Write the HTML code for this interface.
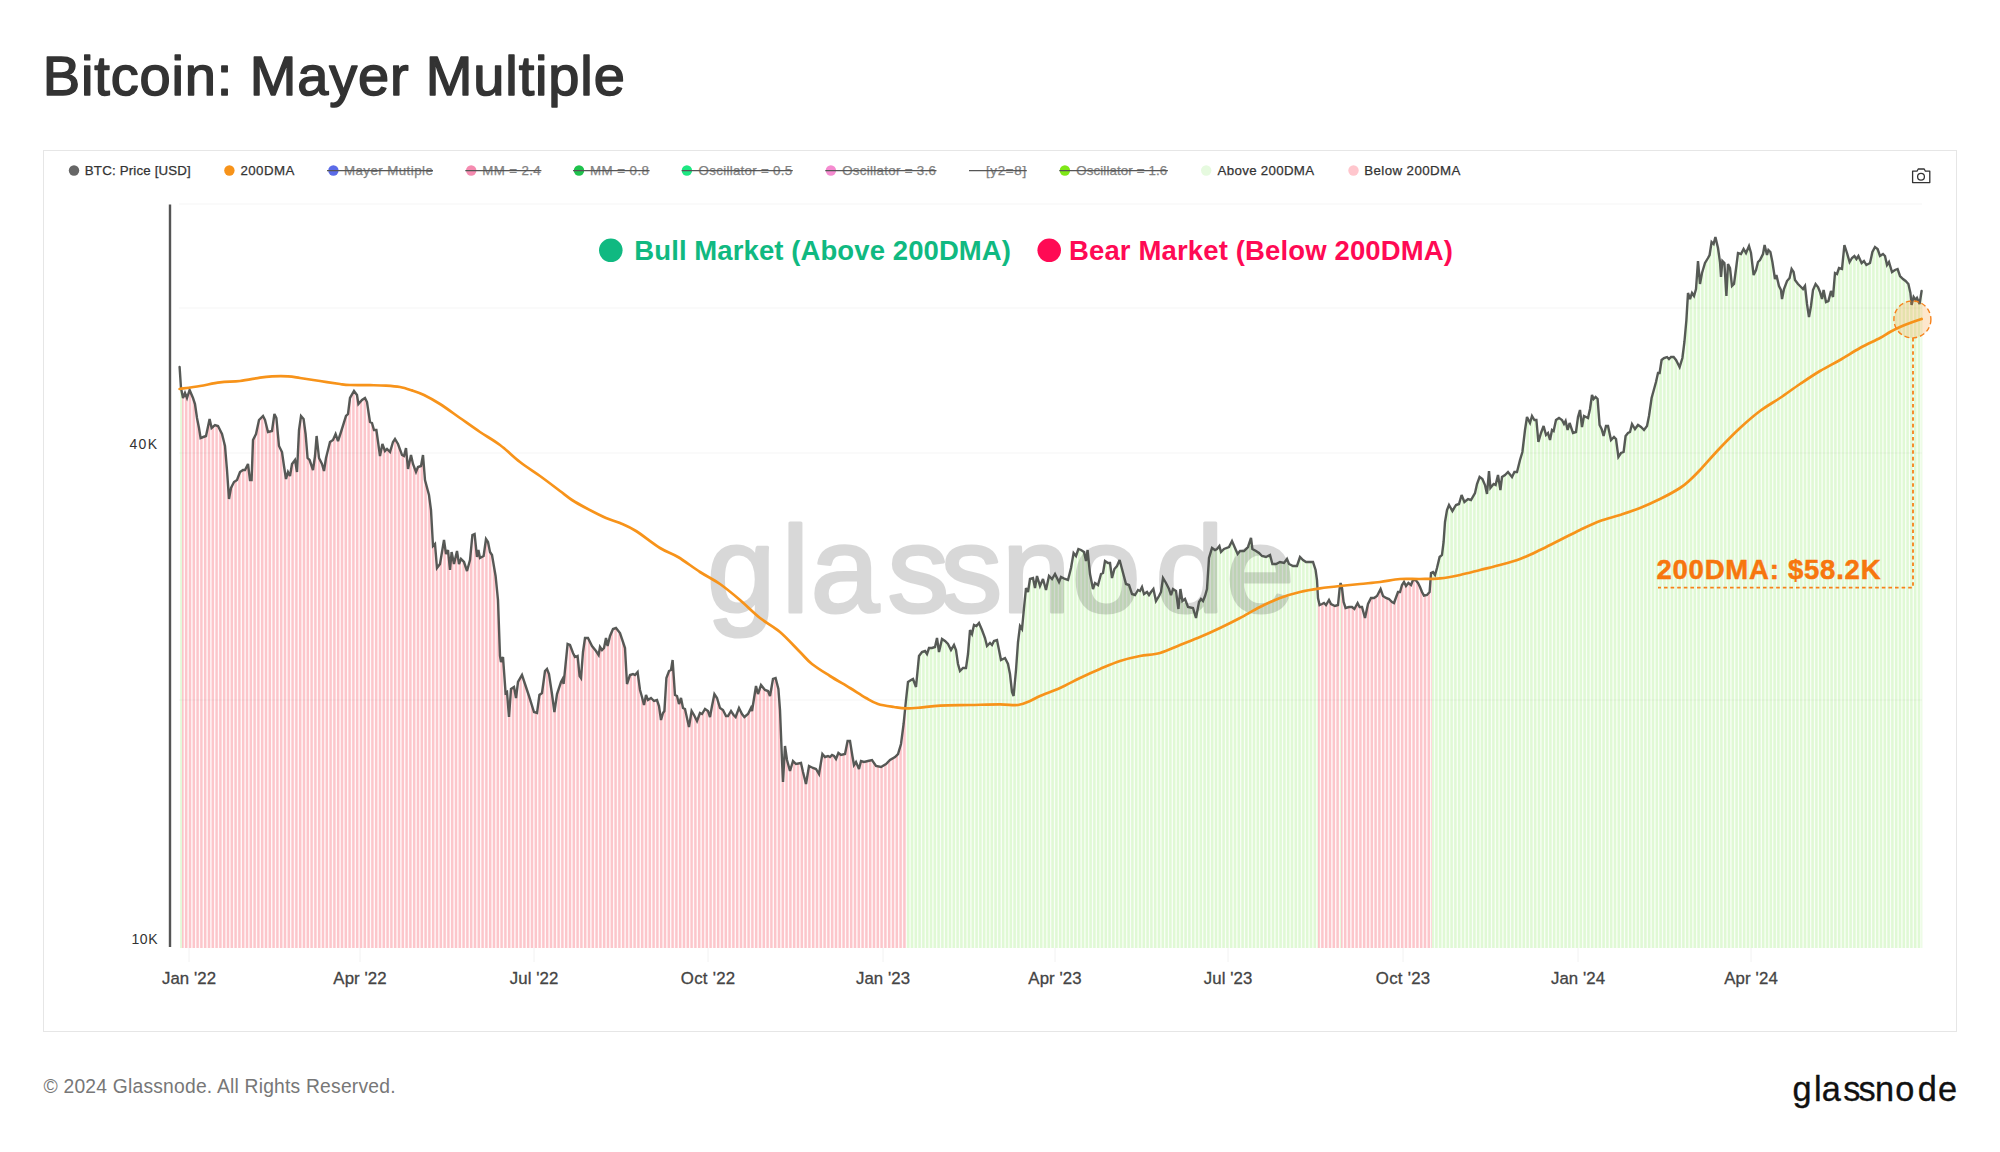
<!DOCTYPE html>
<html lang="en"><head><meta charset="utf-8"><title>Bitcoin: Mayer Multiple</title>
<style>
html,body{margin:0;padding:0;background:#fff;}
body{width:2000px;height:1152px;overflow:hidden;font-family:"Liberation Sans",Arial,sans-serif;}
svg{display:block;position:absolute;left:0;top:0;}
svg text{font-family:"Liberation Sans",Arial,sans-serif;}
</style></head><body>
<svg width="2000" height="1152" viewBox="0 0 2000 1152">

<text x="42.8" y="94.6" font-size="56" fill="#333" textLength="582" lengthAdjust="spacing" stroke="#333" stroke-width="1.5" stroke-linejoin="round">Bitcoin: Mayer Multiple</text>
<rect x="43.5" y="150.5" width="1913" height="881" fill="#fff" stroke="#e6e6e6" stroke-width="1"/>
<line x1="189" x2="189" y1="948" y2="962" stroke="#f2f2f2" stroke-width="1"/>
<line x1="360" x2="360" y1="948" y2="962" stroke="#f2f2f2" stroke-width="1"/>
<line x1="534" x2="534" y1="948" y2="962" stroke="#f2f2f2" stroke-width="1"/>
<line x1="708" x2="708" y1="948" y2="962" stroke="#f2f2f2" stroke-width="1"/>
<line x1="883" x2="883" y1="948" y2="962" stroke="#f2f2f2" stroke-width="1"/>
<line x1="1055" x2="1055" y1="948" y2="962" stroke="#f2f2f2" stroke-width="1"/>
<line x1="1228" x2="1228" y1="948" y2="962" stroke="#f2f2f2" stroke-width="1"/>
<line x1="1403" x2="1403" y1="948" y2="962" stroke="#f2f2f2" stroke-width="1"/>
<line x1="1578" x2="1578" y1="948" y2="962" stroke="#f2f2f2" stroke-width="1"/>
<line x1="1751" x2="1751" y1="948" y2="962" stroke="#f2f2f2" stroke-width="1"/>
<path d="M181.9 948L181.9 392.5 183.0 398.0 185.0 393.0 187.0 398.0 189.6 390.0 193.0 398.0 195.0 404.0 197.0 418.0 199.0 428.0 200.6 438.0 206.0 436.0 209.6 419.0 211.6 428.0 215.0 425.0 218.0 426.0 222.0 434.0 225.0 446.0 227.0 470.0 229.0 499.0 231.0 488.0 234.0 482.0 237.0 480.0 240.0 472.0 243.0 470.0 245.0 470.0 248.0 464.0 250.0 480.0 251.6 480.0 253.0 440.0 256.0 434.0 259.0 420.0 263.0 416.0 265.0 420.0 268.0 432.0 272.0 431.0 274.4 414.0 276.4 418.0 279.0 446.0 282.0 452.0 284.0 466.0 286.0 479.0 288.0 472.0 290.0 476.0 292.0 464.0 295.0 460.0 297.0 472.0 299.0 430.0 301.0 416.0 303.6 419.0 305.6 434.0 307.6 458.0 309.6 460.0 313.0 470.0 315.0 456.0 316.6 436.0 319.0 458.0 322.0 464.0 324.0 471.0 326.0 458.0 330.0 442.0 333.0 440.0 335.6 434.0 338.0 441.0 341.0 432.0 346.0 416.0 348.0 414.0 350.0 398.0 354.0 391.0 357.0 395.0 358.4 404.0 362.0 400.0 365.0 398.0 367.0 402.0 370.0 422.0 372.0 423.0 374.0 430.0 376.4 430.0 380.0 456.0 382.4 444.0 385.0 451.0 387.0 449.0 390.0 452.0 393.0 442.0 395.0 439.0 398.0 444.0 402.0 455.0 404.0 456.0 406.0 448.0 408.0 469.0 411.0 455.0 413.0 464.0 416.0 472.0 418.0 467.0 421.0 466.0 423.0 455.0 425.0 480.0 429.0 495.0 431.0 510.0 433.0 546.0 435.0 544.0 437.0 568.0 440.0 564.0 444.0 540.0 446.0 554.0 448.0 550.0 450.0 570.0 451.6 552.0 454.0 564.0 457.0 551.0 459.0 564.0 461.0 559.0 464.0 562.0 467.0 571.0 470.0 560.0 472.4 535.0 474.6 534.0 477.0 557.0 478.4 550.0 480.0 558.0 483.6 556.0 486.0 539.0 488.0 542.0 490.0 552.0 492.0 555.0 495.6 576.0 498.0 600.0 500.0 656.0 501.0 662.0 503.0 657.0 505.6 693.0 507.0 692.0 509.0 717.0 511.0 689.0 514.0 687.0 516.0 698.0 518.0 682.0 522.0 675.0 525.0 684.0 529.0 696.0 534.0 712.0 537.0 713.0 539.4 695.0 542.0 693.0 545.0 671.0 547.0 669.0 549.0 674.0 552.0 694.0 554.4 712.0 557.0 694.0 561.0 682.0 562.6 679.0 563.6 684.0 565.6 664.0 567.6 644.0 570.0 645.0 573.0 653.0 575.0 657.0 577.6 656.0 579.6 676.0 581.0 678.0 583.0 652.0 585.0 638.0 588.0 638.0 592.0 646.0 596.0 651.0 598.6 655.0 600.0 647.0 602.0 650.0 604.0 648.0 606.0 638.0 607.6 646.0 610.0 636.0 613.0 629.0 616.0 628.0 620.0 633.0 623.0 642.0 625.0 648.0 627.0 684.0 630.0 675.0 633.0 674.0 635.0 675.0 637.6 672.0 640.0 690.0 642.0 697.0 644.0 705.0 646.0 695.0 648.0 700.0 651.0 698.0 654.0 701.0 657.0 700.0 659.0 706.0 661.0 720.0 663.0 713.0 664.4 711.0 666.4 678.0 669.0 671.0 671.0 670.0 672.6 660.0 675.0 695.0 677.0 696.0 679.0 704.0 681.0 698.0 683.0 708.0 685.0 709.0 689.0 727.0 691.6 711.0 694.0 715.0 697.0 721.0 700.0 713.0 702.0 714.0 705.0 709.0 708.0 711.0 710.0 717.0 712.0 706.0 714.4 694.0 717.0 698.0 720.0 708.0 723.0 710.0 726.0 716.0 728.0 716.0 731.0 711.0 733.6 715.0 735.6 717.0 739.0 708.0 742.0 714.0 744.4 717.0 748.0 714.0 751.0 708.0 752.0 711.0 756.0 686.0 758.0 694.0 761.0 685.0 765.0 690.0 768.0 691.0 770.0 696.0 773.0 679.0 775.6 678.0 778.4 689.0 780.0 710.0 782.0 760.0 783.0 782.0 785.0 746.0 787.0 760.0 790.0 771.0 793.0 761.0 796.0 764.0 801.0 763.0 803.0 772.0 806.0 784.0 809.0 766.0 813.0 768.0 816.0 769.0 819.0 774.0 822.4 754.0 825.0 757.0 828.0 756.0 830.0 757.0 832.0 755.0 834.0 756.0 836.0 759.0 838.4 753.0 841.0 755.0 845.0 754.0 847.6 741.0 850.0 741.0 852.4 756.0 854.0 765.0 856.0 762.0 859.0 769.0 861.0 761.0 864.0 762.0 868.0 761.0 872.0 760.0 876.0 766.0 881.0 767.0 886.0 764.0 890.0 760.0 895.0 757.0 898.0 754.0 901.0 744.0 903.6 724.0 906.0 700.0 906.3 697.3L906.3 948Z" fill="#fcc6cb"/>
<path d="M1317.8 948L1317.8 594.4 1318.0 598.0 1319.6 605.0 1322.0 604.0 1324.0 603.0 1326.0 605.0 1329.0 600.0 1331.0 604.0 1335.0 606.0 1338.0 605.0 1339.6 589.0L1339.6 948Z" fill="#fcc6cb"/>
<path d="M1340.9 948L1340.9 584.1 1342.0 588.0 1343.6 602.0 1345.6 608.0 1349.0 607.0 1352.0 607.0 1354.4 609.0 1357.6 603.0 1359.6 607.0 1362.0 607.0 1365.0 618.0 1368.0 604.0 1371.0 598.0 1374.0 598.0 1377.0 596.0 1380.6 589.0 1383.0 596.0 1386.0 598.0 1389.0 599.0 1392.0 602.0 1394.0 603.0 1398.0 592.0 1400.0 592.0 1402.0 585.0 1404.0 582.0 1406.0 586.0 1408.4 583.0 1411.0 585.0 1413.0 580.0 1415.6 580.0 1418.0 583.0 1420.0 587.0 1422.0 592.0 1424.0 595.6 1427.0 595.0 1429.6 592.0 1431.0 573.0 1432.0 572.5L1432 948Z" fill="#fcc6cb"/>
<path d="M180.2 948L180.2 376.0 181.0 388.0 181.9 392.5L181.9 948Z" fill="#e0f9d5"/>
<path d="M906.3 948L906.3 697.3 908.0 682.0 911.0 680.0 913.0 679.0 916.0 687.0 919.0 656.0 922.0 652.0 925.0 651.0 927.0 654.0 929.0 648.0 932.0 648.0 935.0 647.0 937.0 638.0 939.0 652.0 942.0 639.0 945.0 641.0 948.0 644.0 951.0 650.0 954.0 645.0 956.0 650.0 958.0 664.0 960.0 671.0 963.0 668.0 966.0 668.0 968.0 654.0 970.0 630.0 972.0 634.0 974.0 625.0 976.4 626.0 979.0 623.0 982.0 630.0 985.0 638.0 987.0 646.0 990.0 643.0 992.0 645.0 994.0 641.0 997.0 640.0 999.0 650.0 1001.0 660.0 1005.0 658.0 1008.0 664.0 1010.0 674.0 1012.0 692.0 1013.6 696.0 1016.0 670.0 1018.0 642.0 1020.0 626.0 1022.0 629.0 1024.0 608.0 1026.0 588.0 1028.0 592.0 1030.0 579.0 1033.0 578.0 1035.0 588.0 1037.0 576.0 1040.0 586.0 1043.0 579.0 1046.0 590.0 1049.0 576.0 1052.0 579.0 1055.0 574.0 1059.0 582.0 1061.0 577.0 1065.0 579.0 1068.0 580.0 1071.0 568.0 1073.6 553.0 1076.0 556.0 1078.4 549.0 1081.0 550.0 1084.0 552.0 1086.0 561.0 1087.6 550.0 1090.0 574.0 1093.0 589.0 1095.0 583.0 1098.0 585.0 1101.0 574.0 1103.0 573.0 1105.0 561.0 1108.0 563.0 1110.0 563.0 1112.0 578.0 1114.4 569.0 1117.0 566.0 1119.6 560.0 1122.0 569.0 1126.0 584.0 1129.0 585.0 1132.0 594.0 1135.0 595.0 1138.0 590.0 1140.0 591.0 1142.0 587.0 1144.0 594.0 1147.0 592.0 1149.0 595.0 1151.0 592.0 1153.4 589.0 1156.0 601.0 1159.0 596.0 1161.0 592.0 1163.0 578.0 1166.0 583.0 1169.0 589.0 1171.0 595.0 1173.0 589.0 1176.0 591.0 1178.4 609.0 1180.4 589.0 1182.4 601.0 1185.0 599.0 1188.0 607.0 1193.0 608.0 1196.0 618.0 1199.0 602.0 1201.0 599.0 1203.0 601.0 1205.0 596.0 1207.0 589.0 1209.0 558.0 1212.0 548.0 1215.0 550.0 1217.0 549.0 1219.4 546.0 1221.0 552.0 1224.0 549.0 1229.0 547.0 1232.0 541.0 1235.0 548.0 1237.6 554.0 1240.0 551.0 1244.0 551.0 1248.0 547.0 1251.0 538.0 1252.4 549.0 1256.0 551.0 1259.0 553.0 1262.0 556.0 1266.0 557.0 1270.0 555.0 1272.4 564.0 1276.0 564.0 1280.0 562.0 1284.0 563.0 1287.0 559.0 1289.0 564.0 1293.0 566.0 1297.0 566.0 1300.0 557.0 1303.0 560.0 1306.0 562.0 1310.0 562.0 1313.0 562.0 1315.6 570.0 1317.0 580.0 1317.8 594.4L1317.8 948Z" fill="#e0f9d5"/>
<path d="M1339.6 948L1339.6 589.0 1340.6 583.0 1340.9 584.1L1340.9 948Z" fill="#e0f9d5"/>
<path d="M1432 948L1432.0 572.5 1433.0 572.0 1435.0 575.0 1437.0 568.0 1439.6 557.0 1442.0 555.0 1443.6 542.0 1445.0 522.0 1447.0 510.0 1449.0 505.0 1452.4 511.0 1456.0 505.0 1459.0 504.0 1461.6 495.0 1464.4 502.0 1468.0 499.0 1471.0 500.0 1475.0 493.0 1477.0 484.0 1479.6 477.0 1482.4 479.0 1485.0 485.0 1487.0 494.0 1489.0 471.0 1490.4 488.0 1493.6 484.0 1495.6 485.0 1498.0 475.0 1500.4 490.0 1502.0 477.0 1505.0 475.0 1508.0 472.0 1512.0 477.0 1514.4 472.0 1517.0 472.0 1520.0 460.0 1522.4 452.0 1525.0 430.0 1527.0 417.0 1530.0 423.0 1532.0 416.0 1534.4 420.0 1536.4 420.0 1538.4 442.0 1541.0 433.0 1543.6 426.0 1546.0 435.0 1548.0 433.0 1550.0 440.0 1552.0 430.0 1553.6 431.0 1556.0 420.0 1559.0 418.0 1562.0 420.0 1564.0 424.0 1565.6 421.0 1567.6 430.0 1569.6 423.0 1573.0 433.0 1576.0 432.0 1578.0 417.0 1580.0 410.0 1582.0 427.0 1584.0 416.0 1588.0 418.0 1590.0 409.0 1592.0 395.0 1593.6 399.0 1595.6 397.0 1597.6 399.0 1599.6 425.0 1601.6 429.0 1603.6 436.0 1606.0 426.0 1608.0 426.0 1611.0 440.0 1614.0 437.0 1616.0 439.0 1618.4 457.0 1621.0 453.0 1623.6 452.0 1625.6 436.0 1628.0 433.0 1630.0 432.0 1632.0 424.0 1635.0 429.0 1638.0 425.0 1641.0 427.0 1644.0 430.0 1647.0 426.0 1649.0 416.0 1651.6 398.0 1656.0 382.0 1658.0 373.0 1659.6 373.0 1661.6 360.0 1664.0 358.0 1667.0 357.0 1669.0 359.0 1671.0 357.0 1673.6 357.0 1676.0 360.0 1679.6 367.0 1682.4 358.0 1684.4 342.0 1686.4 320.0 1688.0 293.0 1690.0 299.0 1692.0 293.0 1694.0 296.0 1696.0 289.0 1698.0 261.0 1700.0 284.0 1702.0 273.0 1705.0 263.0 1708.0 258.0 1709.6 255.0 1711.6 242.0 1713.6 244.0 1715.4 237.0 1718.0 248.0 1720.0 262.0 1721.0 277.0 1722.4 261.0 1724.4 263.0 1726.4 296.0 1728.0 264.0 1730.0 268.0 1732.0 286.0 1734.0 284.0 1736.0 269.0 1738.0 253.0 1741.0 254.0 1743.6 249.0 1746.0 253.0 1749.0 246.0 1751.0 253.0 1753.6 275.0 1756.0 270.0 1758.0 262.0 1760.0 260.0 1763.0 254.0 1764.6 245.0 1767.0 255.0 1768.4 250.0 1770.4 252.0 1772.4 262.0 1775.0 279.0 1776.4 275.0 1779.0 286.0 1781.0 290.0 1782.0 299.0 1784.0 289.0 1787.0 281.0 1789.6 278.0 1791.6 269.0 1793.6 272.0 1795.0 280.0 1798.0 284.0 1801.0 287.0 1803.0 289.0 1805.0 286.0 1807.0 304.0 1809.0 317.0 1811.0 306.0 1813.0 290.0 1815.6 284.0 1818.0 287.0 1820.0 292.0 1822.0 299.0 1823.6 290.0 1826.0 302.0 1828.4 301.0 1831.0 291.0 1833.0 297.0 1835.0 273.0 1837.0 274.0 1839.0 268.0 1842.0 269.0 1844.4 245.0 1847.0 253.0 1849.6 262.0 1852.0 258.0 1854.4 256.0 1856.4 259.0 1858.4 256.0 1861.6 263.0 1864.0 261.0 1866.4 265.0 1870.0 263.0 1872.4 252.0 1875.0 247.0 1877.6 249.0 1880.0 256.0 1883.0 254.0 1885.0 256.0 1887.0 265.0 1889.0 262.0 1892.0 272.0 1895.0 270.0 1897.6 269.0 1900.0 276.0 1903.0 279.0 1905.6 281.0 1908.4 284.0 1910.4 293.0 1911.6 305.0 1913.6 297.0 1915.6 300.0 1917.0 298.0 1919.6 304.0 1921.6 291.0 1922.3 291.0L1922.3 948Z" fill="#e0f9d5"/>
<path d="M184.30 394.8V948M188.10 394.6V948M191.90 395.4V948M195.70 408.9V948M199.50 431.1V948M203.30 437.0V948M207.10 430.8V948M210.90 424.9V948M214.70 425.3V948M218.50 427.0V948M222.30 435.2V948M226.10 459.2V948M229.90 494.0V948M233.70 482.6V948M237.50 478.7V948M241.30 471.1V948M245.10 469.8V948M248.90 471.2V948M252.70 448.6V948M256.50 431.7V948M260.30 418.7V948M264.10 418.2V948M267.90 431.6V948M271.70 431.1V948M275.50 416.2V948M279.30 446.6V948M283.10 459.7V948M286.90 475.8V948M290.70 471.8V948M294.50 460.7V948M298.30 444.7V948M302.10 417.3V948M305.90 437.6V948M309.70 460.3V948M313.50 466.5V948M317.30 442.4V948M321.10 462.2V948M324.90 465.1V948M328.70 447.2V948M332.50 440.3V948M336.30 436.0V948M340.10 434.7V948M343.90 422.7V948M347.70 414.3V948M351.50 395.4V948M355.30 392.7V948M359.10 403.2V948M362.90 399.4V948M366.70 401.4V948M370.50 422.3V948M374.30 430.0V948M378.10 442.3V948M381.90 446.5V948M385.70 450.3V948M389.50 451.5V948M393.30 441.5V948M397.10 442.5V948M400.90 452.0V948M404.70 453.2V948M408.50 466.7V948M412.30 460.9V948M416.10 471.7V948M419.90 466.4V948M423.70 463.8V948M427.50 489.4V948M431.30 515.4V948M435.10 545.2V948M438.90 565.5V948M442.70 547.8V948M446.50 553.0V948M450.30 566.6V948M454.10 563.6V948M457.90 556.9V948M461.70 559.7V948M465.50 566.5V948M469.30 562.6V948M473.10 534.7V948M476.90 556.0V948M480.70 557.6V948M484.50 549.6V948M488.30 543.5V948M492.10 555.6V948M495.90 579.0V948M499.70 647.6V948M503.50 663.9V948M507.30 695.8V948M511.10 688.9V948M514.90 692.0V948M518.70 680.8V948M522.50 676.5V948M526.30 687.9V948M530.10 699.5V948M533.90 711.7V948M537.70 707.7V948M541.50 693.4V948M545.30 670.7V948M549.10 674.7V948M552.90 700.8V948M556.70 696.1V948M560.50 683.5V948M564.30 677.0V948M568.10 644.2V948M571.90 650.1V948M575.70 656.7V948M579.50 675.0V948M583.30 649.9V948M587.10 638.0V948M590.90 643.8V948M594.70 649.4V948M598.50 654.8V948M602.30 649.7V948M606.10 638.5V948M609.90 636.4V948M613.70 628.8V948M617.50 629.9V948M621.30 636.9V948M625.10 649.8V948M628.90 678.3V948M632.70 674.1V948M636.50 673.3V948M640.30 691.0V948M644.10 704.5V948M647.90 699.7V948M651.70 698.7V948M655.50 700.5V948M659.30 708.1V948M663.10 712.9V948M666.90 676.7V948M670.70 670.2V948M674.50 687.7V948M678.30 701.2V948M682.10 703.5V948M685.90 713.0V948M689.70 722.7V948M693.50 714.2V948M697.30 720.2V948M701.10 713.5V948M704.90 709.2V948M708.70 713.1V948M712.50 703.5V948M716.30 696.9V948M720.10 708.1V948M723.90 711.8V948M727.70 716.0V948M731.50 711.8V948M735.30 716.7V948M739.10 708.2V948M742.90 715.1V948M746.70 715.1V948M750.50 709.0V948M754.30 696.6V948M758.10 693.7V948M761.90 686.1V948M765.70 690.2V948M769.50 694.7V948M773.30 678.9V948M777.10 683.9V948M780.90 732.5V948M784.70 751.4V948M788.50 765.5V948M792.30 763.3V948M796.10 764.0V948M799.90 763.2V948M803.70 774.8V948M807.50 775.0V948M811.30 767.1V948M815.10 768.7V948M818.90 773.8V948M822.70 754.3V948M826.50 756.5V948M830.30 756.7V948M834.10 756.1V948M837.90 754.3V948M841.70 754.8V948M845.50 751.5V948M849.30 741.0V948M853.10 759.9V948M856.90 764.1V948M860.70 762.2V948M864.50 761.9V948M868.30 760.9V948M872.10 760.1V948M875.90 765.8V948M879.70 766.7V948M883.50 765.5V948M887.30 762.7V948M891.10 759.3V948M894.90 757.1V948M898.70 751.7V948M902.50 732.5V948M1320.50 604.6V948M1324.30 603.3V948M1328.10 601.5V948M1331.90 604.4V948M1335.70 605.8V948M1343.30 599.4V948M1347.10 607.6V948M1350.90 607.0V948M1354.70 608.4V948M1358.50 604.8V948M1362.30 608.1V948M1366.10 612.9V948M1369.90 600.2V948M1373.70 598.0V948M1377.50 595.0V948M1381.30 591.0V948M1385.10 597.4V948M1388.90 599.0V948M1392.70 602.3V948M1396.50 596.1V948M1400.30 591.0V948M1404.10 582.2V948M1407.90 583.6V948M1411.70 583.3V948M1415.50 580.0V948M1419.30 585.6V948M1423.10 594.0V948M1426.90 595.0V948M1430.70 577.1V948" stroke="#fff" stroke-width="1.35" stroke-opacity="0.88" fill="none"/>
<path d="M906.30 697.3V948M910.10 680.6V948M913.90 681.4V948M917.70 669.4V948M921.50 652.7V948M925.30 651.4V948M929.10 648.0V948M932.90 647.7V948M936.70 639.4V948M940.50 645.5V948M944.30 640.5V948M948.10 644.2V948M951.90 648.5V948M955.70 649.2V948M959.50 669.2V948M963.30 668.0V948M967.10 660.3V948M970.90 631.8V948M974.70 625.3V948M978.50 623.6V948M982.30 630.8V948M986.10 642.4V948M989.90 643.1V948M993.70 641.6V948M997.50 642.5V948M1001.30 659.9V948M1005.10 658.2V948M1008.90 668.5V948M1012.70 693.7V948M1016.50 663.0V948M1020.30 626.4V948M1024.10 607.0V948M1027.90 591.8V948M1031.70 578.4V948M1035.50 585.0V948M1039.30 583.7V948M1043.10 579.4V948M1046.90 585.8V948M1050.70 577.7V948M1054.50 574.8V948M1058.30 580.6V948M1062.10 577.5V948M1065.90 579.3V948M1069.70 573.2V948M1073.50 553.6V948M1077.30 552.2V948M1081.10 550.1V948M1084.90 556.0V948M1088.70 561.0V948M1092.50 586.5V948M1096.30 583.9V948M1100.10 577.3V948M1103.90 567.6V948M1107.70 562.8V948M1111.50 574.2V948M1115.30 568.0V948M1119.10 561.2V948M1122.90 572.4V948M1126.70 584.2V948M1130.50 589.5V948M1134.30 594.8V948M1138.10 590.0V948M1141.90 587.2V948M1145.70 592.9V948M1149.50 594.3V948M1153.30 589.1V948M1157.10 599.2V948M1160.90 592.2V948M1164.70 580.8V948M1168.50 588.0V948M1172.30 591.1V948M1176.10 591.7V948M1179.90 594.0V948M1183.70 600.0V948M1187.50 605.7V948M1191.30 607.7V948M1195.10 615.0V948M1198.90 602.5V948M1202.70 600.7V948M1206.50 590.8V948M1210.30 553.7V948M1214.10 549.4V948M1217.90 547.9V948M1221.70 551.3V948M1225.50 548.4V948M1229.30 546.4V948M1233.10 543.6V948M1236.90 552.4V948M1240.70 551.0V948M1244.50 550.5V948M1248.30 546.1V948M1252.10 546.6V948M1255.90 550.9V948M1259.70 553.7V948M1263.50 556.4V948M1267.30 556.4V948M1271.10 559.1V948M1274.90 564.0V948M1278.70 562.7V948M1282.50 562.6V948M1286.30 559.9V948M1290.10 564.5V948M1293.90 566.0V948M1297.70 563.9V948M1301.50 558.5V948M1305.30 561.5V948M1309.10 562.0V948M1312.90 562.0V948M1316.70 577.9V948M1339.50 590.0V948M1434.50 574.2V948M1438.30 562.5V948M1442.10 554.2V948M1445.90 516.6V948M1449.70 506.2V948M1453.50 509.2V948M1457.30 504.6V948M1461.10 496.7V948M1464.90 501.6V948M1468.70 499.2V948M1472.50 497.4V948M1476.30 487.2V948M1480.10 477.4V948M1483.90 482.5V948M1487.70 486.0V948M1491.50 486.6V948M1495.30 484.8V948M1499.10 481.9V948M1502.90 476.4V948M1506.70 473.3V948M1510.50 475.1V948M1514.30 472.2V948M1518.10 467.6V948M1521.90 453.7V948M1525.70 425.5V948M1529.50 422.0V948M1533.30 418.2V948M1537.10 427.7V948M1540.90 433.3V948M1544.70 430.1V948M1548.50 434.7V948M1552.30 430.2V948M1556.10 419.9V948M1559.90 418.6V948M1563.70 423.4V948M1567.50 429.5V948M1571.30 428.0V948M1575.10 432.3V948M1578.90 413.9V948M1582.70 423.2V948M1586.50 417.2V948M1590.30 406.9V948M1594.10 398.5V948M1597.90 402.9V948M1601.70 429.3V948M1605.50 428.1V948M1609.30 432.1V948M1613.10 437.9V948M1616.90 445.7V948M1620.70 453.5V948M1624.50 444.8V948M1628.30 432.9V948M1632.10 424.2V948M1635.90 427.8V948M1639.70 426.1V948M1643.50 429.5V948M1647.30 424.5V948M1651.10 401.5V948M1654.90 386.0V948M1658.70 373.0V948M1662.50 359.3V948M1666.30 357.2V948M1670.10 357.9V948M1673.90 357.4V948M1677.70 363.3V948M1681.50 360.9V948M1685.30 332.1V948M1689.10 296.3V948M1692.90 294.3V948M1696.70 279.2V948M1700.50 281.3V948M1704.30 265.3V948M1708.10 257.8V948M1711.90 242.3V948M1715.70 238.3V948M1719.50 258.5V948M1723.30 261.9V948M1727.10 282.0V948M1730.90 276.1V948M1734.70 278.8V948M1738.50 253.2V948M1742.30 251.5V948M1746.10 252.8V948M1749.90 249.1V948M1753.70 274.8V948M1757.50 264.0V948M1761.30 257.4V948M1765.10 247.1V948M1768.90 250.5V948M1772.70 264.0V948M1776.50 275.4V948M1780.30 288.6V948M1784.10 288.7V948M1787.90 280.0V948M1791.70 269.1V948M1795.50 280.7V948M1799.30 285.3V948M1803.10 288.9V948M1806.90 303.1V948M1810.70 307.7V948M1814.50 286.5V948M1818.30 287.7V948M1822.10 298.4V948M1825.90 301.5V948M1829.70 296.0V948M1833.50 291.0V948M1837.30 273.1V948M1841.10 268.7V948M1844.90 246.5V948M1848.70 258.9V948M1852.50 257.6V948M1856.30 258.8V948M1860.10 259.7V948M1863.90 261.1V948M1867.70 264.3V948M1871.50 256.1V948M1875.30 247.2V948M1879.10 253.4V948M1882.90 254.1V948M1886.70 263.6V948M1890.50 267.0V948M1894.30 270.5V948M1898.10 270.5V948M1901.90 277.9V948M1905.70 281.1V948M1909.50 288.9V948M1913.30 298.2V948M1917.10 298.2V948M1920.90 295.6V948" stroke="#fff" stroke-width="1.3" stroke-opacity="0.8" fill="none"/>
<line x1="179" x2="1922" y1="204" y2="204" stroke="#000" stroke-opacity="0.045" stroke-width="1"/>
<line x1="179" x2="1922" y1="308" y2="308" stroke="#000" stroke-opacity="0.045" stroke-width="1"/>
<line x1="179" x2="1922" y1="453" y2="453" stroke="#000" stroke-opacity="0.045" stroke-width="1"/>
<line x1="179" x2="1922" y1="700" y2="700" stroke="#000" stroke-opacity="0.045" stroke-width="1"/>
<text x="707 781.8 810.7 887.5 940.7 1002 1072 1155.5 1226" y="611.6" font-size="123" fill="#000" stroke="#000" stroke-width="3.2" stroke-linejoin="round" opacity="0.15">glassnode</text>
<line x1="170" x2="170" y1="204.6" y2="947" stroke="#555" stroke-width="2.4"/>
<polyline points="179.6,367.0 181.0,388.0 183.0,398.0 185.0,393.0 187.0,398.0 189.6,390.0 193.0,398.0 195.0,404.0 197.0,418.0 199.0,428.0 200.6,438.0 206.0,436.0 209.6,419.0 211.6,428.0 215.0,425.0 218.0,426.0 222.0,434.0 225.0,446.0 227.0,470.0 229.0,499.0 231.0,488.0 234.0,482.0 237.0,480.0 240.0,472.0 243.0,470.0 245.0,470.0 248.0,464.0 250.0,480.0 251.6,480.0 253.0,440.0 256.0,434.0 259.0,420.0 263.0,416.0 265.0,420.0 268.0,432.0 272.0,431.0 274.4,414.0 276.4,418.0 279.0,446.0 282.0,452.0 284.0,466.0 286.0,479.0 288.0,472.0 290.0,476.0 292.0,464.0 295.0,460.0 297.0,472.0 299.0,430.0 301.0,416.0 303.6,419.0 305.6,434.0 307.6,458.0 309.6,460.0 313.0,470.0 315.0,456.0 316.6,436.0 319.0,458.0 322.0,464.0 324.0,471.0 326.0,458.0 330.0,442.0 333.0,440.0 335.6,434.0 338.0,441.0 341.0,432.0 346.0,416.0 348.0,414.0 350.0,398.0 354.0,391.0 357.0,395.0 358.4,404.0 362.0,400.0 365.0,398.0 367.0,402.0 370.0,422.0 372.0,423.0 374.0,430.0 376.4,430.0 380.0,456.0 382.4,444.0 385.0,451.0 387.0,449.0 390.0,452.0 393.0,442.0 395.0,439.0 398.0,444.0 402.0,455.0 404.0,456.0 406.0,448.0 408.0,469.0 411.0,455.0 413.0,464.0 416.0,472.0 418.0,467.0 421.0,466.0 423.0,455.0 425.0,480.0 429.0,495.0 431.0,510.0 433.0,546.0 435.0,544.0 437.0,568.0 440.0,564.0 444.0,540.0 446.0,554.0 448.0,550.0 450.0,570.0 451.6,552.0 454.0,564.0 457.0,551.0 459.0,564.0 461.0,559.0 464.0,562.0 467.0,571.0 470.0,560.0 472.4,535.0 474.6,534.0 477.0,557.0 478.4,550.0 480.0,558.0 483.6,556.0 486.0,539.0 488.0,542.0 490.0,552.0 492.0,555.0 495.6,576.0 498.0,600.0 500.0,656.0 501.0,662.0 503.0,657.0 505.6,693.0 507.0,692.0 509.0,717.0 511.0,689.0 514.0,687.0 516.0,698.0 518.0,682.0 522.0,675.0 525.0,684.0 529.0,696.0 534.0,712.0 537.0,713.0 539.4,695.0 542.0,693.0 545.0,671.0 547.0,669.0 549.0,674.0 552.0,694.0 554.4,712.0 557.0,694.0 561.0,682.0 562.6,679.0 563.6,684.0 565.6,664.0 567.6,644.0 570.0,645.0 573.0,653.0 575.0,657.0 577.6,656.0 579.6,676.0 581.0,678.0 583.0,652.0 585.0,638.0 588.0,638.0 592.0,646.0 596.0,651.0 598.6,655.0 600.0,647.0 602.0,650.0 604.0,648.0 606.0,638.0 607.6,646.0 610.0,636.0 613.0,629.0 616.0,628.0 620.0,633.0 623.0,642.0 625.0,648.0 627.0,684.0 630.0,675.0 633.0,674.0 635.0,675.0 637.6,672.0 640.0,690.0 642.0,697.0 644.0,705.0 646.0,695.0 648.0,700.0 651.0,698.0 654.0,701.0 657.0,700.0 659.0,706.0 661.0,720.0 663.0,713.0 664.4,711.0 666.4,678.0 669.0,671.0 671.0,670.0 672.6,660.0 675.0,695.0 677.0,696.0 679.0,704.0 681.0,698.0 683.0,708.0 685.0,709.0 689.0,727.0 691.6,711.0 694.0,715.0 697.0,721.0 700.0,713.0 702.0,714.0 705.0,709.0 708.0,711.0 710.0,717.0 712.0,706.0 714.4,694.0 717.0,698.0 720.0,708.0 723.0,710.0 726.0,716.0 728.0,716.0 731.0,711.0 733.6,715.0 735.6,717.0 739.0,708.0 742.0,714.0 744.4,717.0 748.0,714.0 751.0,708.0 752.0,711.0 756.0,686.0 758.0,694.0 761.0,685.0 765.0,690.0 768.0,691.0 770.0,696.0 773.0,679.0 775.6,678.0 778.4,689.0 780.0,710.0 782.0,760.0 783.0,782.0 785.0,746.0 787.0,760.0 790.0,771.0 793.0,761.0 796.0,764.0 801.0,763.0 803.0,772.0 806.0,784.0 809.0,766.0 813.0,768.0 816.0,769.0 819.0,774.0 822.4,754.0 825.0,757.0 828.0,756.0 830.0,757.0 832.0,755.0 834.0,756.0 836.0,759.0 838.4,753.0 841.0,755.0 845.0,754.0 847.6,741.0 850.0,741.0 852.4,756.0 854.0,765.0 856.0,762.0 859.0,769.0 861.0,761.0 864.0,762.0 868.0,761.0 872.0,760.0 876.0,766.0 881.0,767.0 886.0,764.0 890.0,760.0 895.0,757.0 898.0,754.0 901.0,744.0 903.6,724.0 906.0,700.0 908.0,682.0 911.0,680.0 913.0,679.0 916.0,687.0 919.0,656.0 922.0,652.0 925.0,651.0 927.0,654.0 929.0,648.0 932.0,648.0 935.0,647.0 937.0,638.0 939.0,652.0 942.0,639.0 945.0,641.0 948.0,644.0 951.0,650.0 954.0,645.0 956.0,650.0 958.0,664.0 960.0,671.0 963.0,668.0 966.0,668.0 968.0,654.0 970.0,630.0 972.0,634.0 974.0,625.0 976.4,626.0 979.0,623.0 982.0,630.0 985.0,638.0 987.0,646.0 990.0,643.0 992.0,645.0 994.0,641.0 997.0,640.0 999.0,650.0 1001.0,660.0 1005.0,658.0 1008.0,664.0 1010.0,674.0 1012.0,692.0 1013.6,696.0 1016.0,670.0 1018.0,642.0 1020.0,626.0 1022.0,629.0 1024.0,608.0 1026.0,588.0 1028.0,592.0 1030.0,579.0 1033.0,578.0 1035.0,588.0 1037.0,576.0 1040.0,586.0 1043.0,579.0 1046.0,590.0 1049.0,576.0 1052.0,579.0 1055.0,574.0 1059.0,582.0 1061.0,577.0 1065.0,579.0 1068.0,580.0 1071.0,568.0 1073.6,553.0 1076.0,556.0 1078.4,549.0 1081.0,550.0 1084.0,552.0 1086.0,561.0 1087.6,550.0 1090.0,574.0 1093.0,589.0 1095.0,583.0 1098.0,585.0 1101.0,574.0 1103.0,573.0 1105.0,561.0 1108.0,563.0 1110.0,563.0 1112.0,578.0 1114.4,569.0 1117.0,566.0 1119.6,560.0 1122.0,569.0 1126.0,584.0 1129.0,585.0 1132.0,594.0 1135.0,595.0 1138.0,590.0 1140.0,591.0 1142.0,587.0 1144.0,594.0 1147.0,592.0 1149.0,595.0 1151.0,592.0 1153.4,589.0 1156.0,601.0 1159.0,596.0 1161.0,592.0 1163.0,578.0 1166.0,583.0 1169.0,589.0 1171.0,595.0 1173.0,589.0 1176.0,591.0 1178.4,609.0 1180.4,589.0 1182.4,601.0 1185.0,599.0 1188.0,607.0 1193.0,608.0 1196.0,618.0 1199.0,602.0 1201.0,599.0 1203.0,601.0 1205.0,596.0 1207.0,589.0 1209.0,558.0 1212.0,548.0 1215.0,550.0 1217.0,549.0 1219.4,546.0 1221.0,552.0 1224.0,549.0 1229.0,547.0 1232.0,541.0 1235.0,548.0 1237.6,554.0 1240.0,551.0 1244.0,551.0 1248.0,547.0 1251.0,538.0 1252.4,549.0 1256.0,551.0 1259.0,553.0 1262.0,556.0 1266.0,557.0 1270.0,555.0 1272.4,564.0 1276.0,564.0 1280.0,562.0 1284.0,563.0 1287.0,559.0 1289.0,564.0 1293.0,566.0 1297.0,566.0 1300.0,557.0 1303.0,560.0 1306.0,562.0 1310.0,562.0 1313.0,562.0 1315.6,570.0 1317.0,580.0 1318.0,598.0 1319.6,605.0 1322.0,604.0 1324.0,603.0 1326.0,605.0 1329.0,600.0 1331.0,604.0 1335.0,606.0 1338.0,605.0 1339.6,589.0 1340.6,583.0 1342.0,588.0 1343.6,602.0 1345.6,608.0 1349.0,607.0 1352.0,607.0 1354.4,609.0 1357.6,603.0 1359.6,607.0 1362.0,607.0 1365.0,618.0 1368.0,604.0 1371.0,598.0 1374.0,598.0 1377.0,596.0 1380.6,589.0 1383.0,596.0 1386.0,598.0 1389.0,599.0 1392.0,602.0 1394.0,603.0 1398.0,592.0 1400.0,592.0 1402.0,585.0 1404.0,582.0 1406.0,586.0 1408.4,583.0 1411.0,585.0 1413.0,580.0 1415.6,580.0 1418.0,583.0 1420.0,587.0 1422.0,592.0 1424.0,595.6 1427.0,595.0 1429.6,592.0 1431.0,573.0 1433.0,572.0 1435.0,575.0 1437.0,568.0 1439.6,557.0 1442.0,555.0 1443.6,542.0 1445.0,522.0 1447.0,510.0 1449.0,505.0 1452.4,511.0 1456.0,505.0 1459.0,504.0 1461.6,495.0 1464.4,502.0 1468.0,499.0 1471.0,500.0 1475.0,493.0 1477.0,484.0 1479.6,477.0 1482.4,479.0 1485.0,485.0 1487.0,494.0 1489.0,471.0 1490.4,488.0 1493.6,484.0 1495.6,485.0 1498.0,475.0 1500.4,490.0 1502.0,477.0 1505.0,475.0 1508.0,472.0 1512.0,477.0 1514.4,472.0 1517.0,472.0 1520.0,460.0 1522.4,452.0 1525.0,430.0 1527.0,417.0 1530.0,423.0 1532.0,416.0 1534.4,420.0 1536.4,420.0 1538.4,442.0 1541.0,433.0 1543.6,426.0 1546.0,435.0 1548.0,433.0 1550.0,440.0 1552.0,430.0 1553.6,431.0 1556.0,420.0 1559.0,418.0 1562.0,420.0 1564.0,424.0 1565.6,421.0 1567.6,430.0 1569.6,423.0 1573.0,433.0 1576.0,432.0 1578.0,417.0 1580.0,410.0 1582.0,427.0 1584.0,416.0 1588.0,418.0 1590.0,409.0 1592.0,395.0 1593.6,399.0 1595.6,397.0 1597.6,399.0 1599.6,425.0 1601.6,429.0 1603.6,436.0 1606.0,426.0 1608.0,426.0 1611.0,440.0 1614.0,437.0 1616.0,439.0 1618.4,457.0 1621.0,453.0 1623.6,452.0 1625.6,436.0 1628.0,433.0 1630.0,432.0 1632.0,424.0 1635.0,429.0 1638.0,425.0 1641.0,427.0 1644.0,430.0 1647.0,426.0 1649.0,416.0 1651.6,398.0 1656.0,382.0 1658.0,373.0 1659.6,373.0 1661.6,360.0 1664.0,358.0 1667.0,357.0 1669.0,359.0 1671.0,357.0 1673.6,357.0 1676.0,360.0 1679.6,367.0 1682.4,358.0 1684.4,342.0 1686.4,320.0 1688.0,293.0 1690.0,299.0 1692.0,293.0 1694.0,296.0 1696.0,289.0 1698.0,261.0 1700.0,284.0 1702.0,273.0 1705.0,263.0 1708.0,258.0 1709.6,255.0 1711.6,242.0 1713.6,244.0 1715.4,237.0 1718.0,248.0 1720.0,262.0 1721.0,277.0 1722.4,261.0 1724.4,263.0 1726.4,296.0 1728.0,264.0 1730.0,268.0 1732.0,286.0 1734.0,284.0 1736.0,269.0 1738.0,253.0 1741.0,254.0 1743.6,249.0 1746.0,253.0 1749.0,246.0 1751.0,253.0 1753.6,275.0 1756.0,270.0 1758.0,262.0 1760.0,260.0 1763.0,254.0 1764.6,245.0 1767.0,255.0 1768.4,250.0 1770.4,252.0 1772.4,262.0 1775.0,279.0 1776.4,275.0 1779.0,286.0 1781.0,290.0 1782.0,299.0 1784.0,289.0 1787.0,281.0 1789.6,278.0 1791.6,269.0 1793.6,272.0 1795.0,280.0 1798.0,284.0 1801.0,287.0 1803.0,289.0 1805.0,286.0 1807.0,304.0 1809.0,317.0 1811.0,306.0 1813.0,290.0 1815.6,284.0 1818.0,287.0 1820.0,292.0 1822.0,299.0 1823.6,290.0 1826.0,302.0 1828.4,301.0 1831.0,291.0 1833.0,297.0 1835.0,273.0 1837.0,274.0 1839.0,268.0 1842.0,269.0 1844.4,245.0 1847.0,253.0 1849.6,262.0 1852.0,258.0 1854.4,256.0 1856.4,259.0 1858.4,256.0 1861.6,263.0 1864.0,261.0 1866.4,265.0 1870.0,263.0 1872.4,252.0 1875.0,247.0 1877.6,249.0 1880.0,256.0 1883.0,254.0 1885.0,256.0 1887.0,265.0 1889.0,262.0 1892.0,272.0 1895.0,270.0 1897.6,269.0 1900.0,276.0 1903.0,279.0 1905.6,281.0 1908.4,284.0 1910.4,293.0 1911.6,305.0 1913.6,297.0 1915.6,300.0 1917.0,298.0 1919.6,304.0 1921.6,291.0" fill="none" stroke="#454845" stroke-opacity="0.9" stroke-width="2.4" stroke-linejoin="miter" stroke-miterlimit="3" stroke-linecap="round"/>
<path d="M179.6 389.0C183.0 388.5 193.3 387.1 200.0 386.0C206.7 384.9 213.3 383.2 220.0 382.4C226.7 381.6 233.3 381.8 240.0 381.0C246.7 380.2 254.7 378.4 260.0 377.6C265.3 376.8 267.3 376.6 272.0 376.4C276.7 376.2 283.3 376.1 288.0 376.4C292.7 376.7 294.7 377.2 300.0 378.0C305.3 378.8 313.3 380.0 320.0 381.0C326.7 382.0 335.0 383.3 340.0 384.0C345.0 384.7 345.0 384.8 350.0 385.0C355.0 385.2 364.0 385.1 370.0 385.2C376.0 385.3 381.0 385.3 386.0 385.6C391.0 385.9 395.7 386.2 400.0 387.0C404.3 387.8 408.0 389.1 412.0 390.4C416.0 391.7 419.3 392.7 424.0 395.0C428.7 397.3 434.0 400.2 440.0 404.0C446.0 407.8 453.3 413.3 460.0 418.0C466.7 422.7 473.3 427.5 480.0 432.0C486.7 436.5 493.3 440.0 500.0 445.0C506.7 450.0 513.3 456.8 520.0 462.0C526.7 467.2 533.3 471.2 540.0 476.0C546.7 480.8 554.7 487.0 560.0 491.0C565.3 495.0 567.7 497.2 572.0 500.0C576.3 502.8 580.3 505.0 586.0 508.0C591.7 511.0 600.3 515.5 606.0 518.0C611.7 520.5 615.0 520.8 620.0 523.0C625.0 525.2 629.3 526.8 636.0 531.0C642.7 535.2 653.0 543.7 660.0 548.0C667.0 552.3 671.3 553.0 678.0 557.0C684.7 561.0 693.0 567.5 700.0 572.0C707.0 576.5 713.3 579.3 720.0 584.0C726.7 588.7 733.3 594.3 740.0 600.0C746.7 605.7 753.3 612.7 760.0 618.0C766.7 623.3 773.3 626.3 780.0 632.0C786.7 637.7 794.7 646.7 800.0 652.0C805.3 657.3 807.0 660.0 812.0 664.0C817.0 668.0 823.7 672.0 830.0 676.0C836.3 680.0 844.0 684.3 850.0 688.0C856.0 691.7 861.3 695.3 866.0 698.0C870.7 700.7 873.3 702.5 878.0 704.0C882.7 705.5 889.3 706.3 894.0 707.0C898.7 707.7 901.7 708.3 906.0 708.4C910.3 708.5 914.3 708.1 920.0 707.6C925.7 707.1 931.7 706.0 940.0 705.6C948.3 705.2 960.0 705.2 970.0 705.0C980.0 704.8 992.0 704.4 1000.0 704.4C1008.0 704.4 1013.0 705.6 1018.0 705.0C1023.0 704.4 1026.3 702.5 1030.0 701.0C1033.7 699.5 1035.0 698.2 1040.0 696.0C1045.0 693.8 1053.3 691.0 1060.0 688.0C1066.7 685.0 1073.3 681.2 1080.0 678.0C1086.7 674.8 1093.3 671.8 1100.0 669.0C1106.7 666.2 1113.3 663.2 1120.0 661.0C1126.7 658.8 1133.3 657.3 1140.0 656.0C1146.7 654.7 1153.3 654.8 1160.0 653.0C1166.7 651.2 1173.3 647.7 1180.0 645.0C1186.7 642.3 1193.3 639.8 1200.0 637.0C1206.7 634.2 1213.3 631.2 1220.0 628.0C1226.7 624.8 1233.3 621.5 1240.0 618.0C1246.7 614.5 1253.3 610.3 1260.0 607.0C1266.7 603.7 1273.3 600.5 1280.0 598.0C1286.7 595.5 1293.3 593.6 1300.0 592.0C1306.7 590.4 1313.3 589.4 1320.0 588.4C1326.7 587.4 1333.3 586.7 1340.0 586.0C1346.7 585.3 1353.3 584.7 1360.0 584.0C1366.7 583.3 1373.3 582.8 1380.0 582.0C1386.7 581.2 1393.3 579.5 1400.0 579.0C1406.7 578.5 1413.3 579.1 1420.0 579.0C1426.7 578.9 1433.3 579.1 1440.0 578.4C1446.7 577.7 1453.3 576.4 1460.0 575.0C1466.7 573.6 1473.3 571.7 1480.0 570.0C1486.7 568.3 1493.3 566.8 1500.0 565.0C1506.7 563.2 1513.3 561.5 1520.0 559.0C1526.7 556.5 1533.3 553.2 1540.0 550.0C1546.7 546.8 1553.3 543.3 1560.0 540.0C1566.7 536.7 1573.3 533.2 1580.0 530.0C1586.7 526.8 1593.3 523.5 1600.0 521.0C1606.7 518.5 1613.3 517.2 1620.0 515.0C1626.7 512.8 1633.3 510.7 1640.0 508.0C1646.7 505.3 1653.3 502.3 1660.0 499.0C1666.7 495.7 1675.0 491.2 1680.0 488.0C1685.0 484.8 1686.7 483.0 1690.0 480.0C1693.3 477.0 1695.0 475.3 1700.0 470.0C1705.0 464.7 1713.3 455.0 1720.0 448.0C1726.7 441.0 1733.3 434.2 1740.0 428.0C1746.7 421.8 1753.3 416.0 1760.0 411.0C1766.7 406.0 1773.3 402.5 1780.0 398.0C1786.7 393.5 1793.3 388.5 1800.0 384.0C1806.7 379.5 1813.3 375.0 1820.0 371.0C1826.7 367.0 1833.3 363.8 1840.0 360.0C1846.7 356.2 1853.3 351.7 1860.0 348.0C1866.7 344.3 1875.0 340.7 1880.0 338.0C1885.0 335.3 1886.7 333.8 1890.0 332.0C1893.3 330.2 1896.7 328.5 1900.0 327.0C1903.3 325.5 1906.4 324.3 1910.0 323.0C1913.6 321.7 1919.7 319.7 1921.6 319.0" fill="none" stroke="#f7931a" stroke-width="2.7" stroke-linejoin="round" stroke-linecap="round"/>
<text x="129.5" y="449" font-size="14" fill="#333" textLength="27.5" lengthAdjust="spacing" >40K</text>
<text x="131.5" y="944.4" font-size="14" fill="#333" textLength="26" lengthAdjust="spacing" >10K</text>
<text x="189" y="983.5" font-size="16.8" fill="#444" textLength="54" lengthAdjust="spacing" text-anchor="middle" stroke="#444" stroke-width="0.3">Jan '22</text>
<text x="360" y="983.5" font-size="16.8" fill="#444" textLength="53.3" lengthAdjust="spacing" text-anchor="middle" stroke="#444" stroke-width="0.3">Apr '22</text>
<text x="534" y="983.5" font-size="16.8" fill="#444" textLength="48.5" lengthAdjust="spacing" text-anchor="middle" stroke="#444" stroke-width="0.3">Jul '22</text>
<text x="708" y="983.5" font-size="16.8" fill="#444" textLength="54.3" lengthAdjust="spacing" text-anchor="middle" stroke="#444" stroke-width="0.3">Oct '22</text>
<text x="883" y="983.5" font-size="16.8" fill="#444" textLength="54" lengthAdjust="spacing" text-anchor="middle" stroke="#444" stroke-width="0.3">Jan '23</text>
<text x="1055" y="983.5" font-size="16.8" fill="#444" textLength="53.3" lengthAdjust="spacing" text-anchor="middle" stroke="#444" stroke-width="0.3">Apr '23</text>
<text x="1228" y="983.5" font-size="16.8" fill="#444" textLength="48.5" lengthAdjust="spacing" text-anchor="middle" stroke="#444" stroke-width="0.3">Jul '23</text>
<text x="1403" y="983.5" font-size="16.8" fill="#444" textLength="54.3" lengthAdjust="spacing" text-anchor="middle" stroke="#444" stroke-width="0.3">Oct '23</text>
<text x="1578" y="983.5" font-size="16.8" fill="#444" textLength="54" lengthAdjust="spacing" text-anchor="middle" stroke="#444" stroke-width="0.3">Jan '24</text>
<text x="1751" y="983.5" font-size="16.8" fill="#444" textLength="53.5" lengthAdjust="spacing" text-anchor="middle" stroke="#444" stroke-width="0.3">Apr '24</text>
<circle cx="74" cy="170.5" r="5.2" fill="#666"/>
<text x="84.8" y="175" font-size="13.3" fill="#333" textLength="106" lengthAdjust="spacing" stroke="#333" stroke-width="0.25" >BTC: Price [USD]</text>
<circle cx="229.4" cy="170.5" r="5.2" fill="#f7931a"/>
<text x="240.4" y="175" font-size="13.3" fill="#333" textLength="54" lengthAdjust="spacing" stroke="#333" stroke-width="0.25" >200DMA</text>
<circle cx="333.4" cy="170.5" r="5.2" fill="#5b6be8"/>
<text x="344" y="175" font-size="13.3" fill="#808080" textLength="88.8" lengthAdjust="spacing" stroke="#808080" stroke-width="0.25" >Mayer Mutiple</text>
<line x1="327" x2="433" y1="170.7" y2="170.7" stroke="#555" stroke-width="1.2"/>
<circle cx="471.2" cy="170.5" r="5.2" fill="#f58bb0"/>
<text x="482.2" y="175" font-size="13.3" fill="#808080" textLength="58.5" lengthAdjust="spacing" stroke="#808080" stroke-width="0.25" >MM = 2.4</text>
<line x1="465.3" x2="541.4" y1="170.7" y2="170.7" stroke="#555" stroke-width="1.2"/>
<circle cx="579" cy="170.5" r="5.2" fill="#1fc24d"/>
<text x="590" y="175" font-size="13.3" fill="#808080" textLength="59" lengthAdjust="spacing" stroke="#808080" stroke-width="0.25" >MM = 0.8</text>
<line x1="573" x2="649.6" y1="170.7" y2="170.7" stroke="#555" stroke-width="1.2"/>
<circle cx="686.9" cy="170.5" r="5.2" fill="#1de782"/>
<text x="698.6" y="175" font-size="13.3" fill="#808080" textLength="93.6" lengthAdjust="spacing" stroke="#808080" stroke-width="0.25" >Oscillator = 0.5</text>
<line x1="681.7" x2="792.8" y1="170.7" y2="170.7" stroke="#555" stroke-width="1.2"/>
<circle cx="830.9" cy="170.5" r="5.2" fill="#f58bd0"/>
<text x="842.2" y="175" font-size="13.3" fill="#808080" textLength="93.6" lengthAdjust="spacing" stroke="#808080" stroke-width="0.25" >Oscillator = 3.6</text>
<line x1="825.3" x2="936.5" y1="170.7" y2="170.7" stroke="#555" stroke-width="1.2"/>
<text x="985.9" y="175" font-size="13.3" fill="#808080" textLength="40.3" lengthAdjust="spacing" stroke="#808080" stroke-width="0.25" >[y2=8]</text>
<line x1="969" x2="1026.8" y1="170.7" y2="170.7" stroke="#555" stroke-width="1.2"/>
<circle cx="1064.9" cy="170.5" r="5.2" fill="#7fe817"/>
<text x="1076.2" y="175" font-size="13.3" fill="#808080" textLength="91" lengthAdjust="spacing" stroke="#808080" stroke-width="0.25" >Oscillator = 1.6</text>
<line x1="1059.3" x2="1167.9" y1="170.7" y2="170.7" stroke="#555" stroke-width="1.2"/>
<circle cx="1206.2" cy="170.5" r="5.2" fill="#e6fadf"/>
<text x="1217.6" y="175" font-size="13.3" fill="#333" textLength="96.5" lengthAdjust="spacing" stroke="#333" stroke-width="0.25" >Above 200DMA</text>
<circle cx="1353.5" cy="170.5" r="5.2" fill="#ffc6cd"/>
<text x="1364.2" y="175" font-size="13.3" fill="#333" textLength="96.2" lengthAdjust="spacing" stroke="#333" stroke-width="0.25" >Below 200DMA</text>
<g fill="none" stroke="#333" stroke-width="1.3" stroke-linejoin="round"><path d="M1912.6 171.2H1917l1.2-2.2h6l1.2 2.2h4.4v11.4h-17.2z"/><circle cx="1921" cy="176.7" r="3.4"/></g>
<circle cx="610.8" cy="250.3" r="11.8" fill="#10b981"/>
<text x="634.3" y="260" font-size="27.5" fill="#10b981" textLength="376.7" lengthAdjust="spacing" font-weight="bold" >Bull Market (Above 200DMA)</text>
<circle cx="1049.2" cy="250.3" r="11.8" fill="#ff0a54"/>
<text x="1069" y="260" font-size="27.5" fill="#ff0a54" textLength="384" lengthAdjust="spacing" font-weight="bold" >Bear Market (Below 200DMA)</text>
<circle cx="1912.4" cy="319.4" r="18.5" fill="#f7931a" fill-opacity="0.22" stroke="#f7821a" stroke-width="1.4" stroke-dasharray="5 3"/>
<path d="M1913 338V587.6H1658" fill="none" stroke="#f7821a" stroke-width="1.8" stroke-dasharray="3.6 3"/>
<text x="1656.5" y="579" font-size="27.5" fill="#f7760e" textLength="224" lengthAdjust="spacing" font-weight="bold" stroke="#f7760e" stroke-width="0.5">200DMA: $58.2K</text>
<text x="43.5" y="1092.7" font-size="19.3" fill="#777" textLength="352" lengthAdjust="spacing" >© 2024 Glassnode. All Rights Reserved.</text>
<text x="1792.4 1814 1821.7 1843.2 1858.4 1875.1 1895.3 1917.8 1938.1" y="1100.9" font-size="34.3" fill="#111" stroke="#111" stroke-width="0.35" stroke-linejoin="round">glassnode</text>
</svg></body></html>
